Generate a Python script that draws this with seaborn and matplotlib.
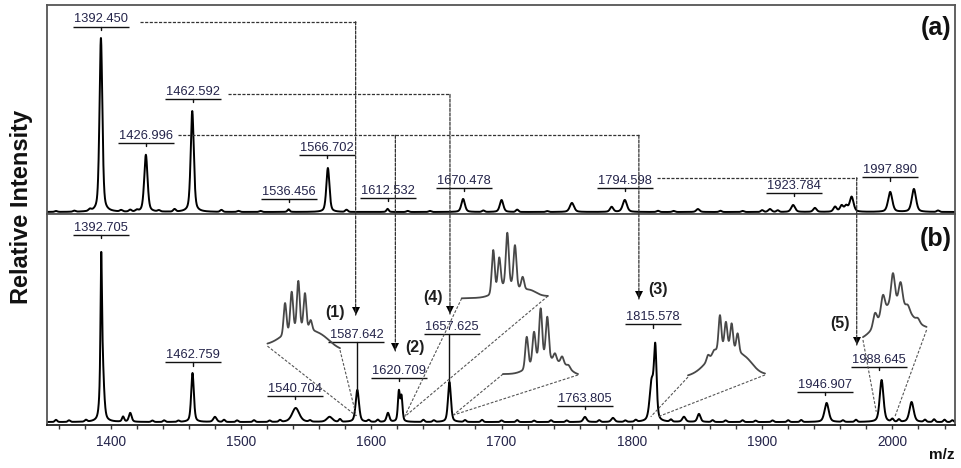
import numpy as np
import pandas as pd
import matplotlib
matplotlib.use("Agg")
import matplotlib.pyplot as plt
import seaborn as sns
from matplotlib.patches import ConnectionPatch
from matplotlib.ticker import MultipleLocator
from matplotlib.transforms import offset_copy

# ---------------- data ----------------
# panel (a): main peaks  (m/z, relative intensity %, FWHM)
a_peak_mz = [1392.5, 1427.0, 1462.6, 1536.5, 1566.7, 1612.5, 1670.5, 1700.0, 1754.0,
             1784.5, 1794.6, 1850.7, 1906.0, 1923.8, 1940.5, 1956.0, 1961.0, 1964.5,
             1968.7, 1998.3, 2016.5]
a_peak_int = [100, 32.8, 58.0, 1.5, 25.3, 1.8, 7.5, 6.9, 5.2,
              2.9, 6.9, 1.7, 1.7, 4.0, 2.3, 2.9, 3.5, 3.2,
              8.6, 11.5, 13.2]
a_peak_fwhm = [2.6, 3.0, 2.8, 2.0, 2.8, 2.0, 3.2, 3.2, 3.8,
               3.0, 3.8, 3.0, 3.0, 3.5, 3.0, 3.0, 3.0, 3.0,
               3.5, 3.8, 3.8]
# panel (a): small baseline bumps
a_bump_mz = [1358, 1372, 1384, 1408, 1415, 1420, 1437, 1449, 1485, 1498, 1515, 1581,
             1628, 1645, 1686, 1712, 1735, 1820, 1832, 1868, 1885, 1900, 1912, 2035]
a_bump_int = [0.5, 0.6, 1.0, 0.8, 1.0, 0.8, 0.7, 1.4, 1.1, 0.6, 0.6, 1.2,
              0.6, 0.6, 0.8, 1.3, 0.5, 0.7, 0.6, 0.7, 0.6, 1.0, 0.9, 0.8]

# panel (b): main peaks
b_peak_mz = [1392.7, 1393.3, 1409.5, 1415.0, 1462.8, 1480.0, 1542.0, 1568.0, 1589.3,
             1612.8, 1621.2, 1623.2, 1660.0, 1764.0, 1785.5, 1815.2, 1818.0, 1840.0,
             1851.5, 1949.5, 1991.7, 2014.7]
b_peak_int = [62, 40, 2.9, 5.1, 28.0, 2.9, 8.0, 2.9, 18.3,
              5.1, 17.0, 14.0, 22.9, 2.9, 2.3, 22.0, 40.0, 2.9,
              4.6, 10.9, 24.0, 11.4]
b_peak_fwhm = [1.2, 3.0, 2.0, 2.5, 2.4, 3.0, 6.5, 5.0, 3.0,
               2.5, 1.8, 1.8, 2.6, 3.0, 3.0, 3.6, 2.4, 3.0,
               2.8, 3.8, 3.4, 3.8]
# panel (b): small baseline bumps
b_bump_mz = [1358, 1368, 1381, 1432, 1441, 1452, 1487, 1497, 1510, 1522, 1530, 1553,
             1576, 1598, 1605, 1640, 1648, 1672, 1685, 1700, 1712, 1725, 1738, 1750,
             1775, 1795, 1803, 1830, 1862, 1872, 1885, 1895, 1908, 1920, 1930, 1962,
             1972, 2000, 2005, 2025, 2032, 2040, 2046]
b_bump_int = [1.2, 0.9, 1.0, 0.8, 0.9, 0.7, 1.2, 0.9, 1.0, 0.8, 1.0, 0.8,
              1.5, 1.0, 1.2, 1.2, 0.9, 1.0, 1.2, 0.9, 1.1, 0.8, 1.0, 0.9,
              1.0, 0.8, 1.0, 1.2, 1.0, 0.9, 1.0, 0.8, 0.9, 1.0, 1.1, 0.9,
              1.2, 1.5, 1.3, 1.2, 1.5, 1.3, 1.0]

# peak labels, panel (a)
a_label_text = ["1392.450", "1426.996", "1462.592", "1536.456", "1566.702",
                "1612.532", "1670.478", "1794.598", "1923.784", "1997.890"]
a_label_x = [1392.5, 1427.0, 1462.8, 1536.5, 1566.0, 1612.5, 1671.0, 1795.0, 1924.5, 1998.4]
a_label_y = [106.6, 39.5, 64.9, 7.3, 32.8, 7.9, 14.0, 13.6, 11.1, 19.9]

# peak labels, panel (b)
b_label_text = ["1392.705", "1462.759", "1540.704", "1587.642", "1620.709",
                "1657.625", "1763.805", "1815.578", "1946.907", "1988.645"]
b_label_x = [1392.8, 1463.0, 1541.2, 1588.6, 1621.3, 1662.0, 1764.0, 1816.4, 1948.4, 1989.5]
b_label_y = [106.9, 34.1, 14.9, 45.5, 25.3, 50.1, 9.3, 55.8, 17.3, 31.3]
b_stem_x = [1392.8, 1463.0, 1541.2, 1589.3, 1621.3, 1659.8, 1764.0, 1816.4, 1948.2, 1989.9]
b_stem_end = [105.1, 32.3, 13.1, 18.3, 23.5, 23.4, 7.5, 54.0, 15.5, 29.5]

# dashed connectors from panel (a) to panel (b)
conn_y = [109.4, 67.6, 44.1, 19.7]
conn_x0 = [1422.6, 1490.0, 1451.6, 1819.3]
conn_x1 = [1588.0, 1660.4, 1805.4, 1972.6]
drop_x = [1588.0, 1660.4, 1618.5, 1805.4, 1972.6]
drop_from = [109.4, 67.6, 44.1, 44.1, 19.7]
drop_tip = [61.1, 61.7, 40.6, 70.3, 44.0]

num_text = ["(1)", "(2)", "(3)", "(4)", "(5)"]
num_x = [1572.4, 1633.5, 1820.3, 1647.4, 1959.7]
num_y = [62.7, 42.7, 76.0, 70.9, 56.4]

# isotope-pattern insets (panel b data units)
inset_left_x = [1520.3, 1669.4, 1701.1, 1843.1, 1977.4]
inset_left_y = [43.4, 70.7, 27.4, 25.7, 46.9]
inset_right_x = [1576.0, 1735.6, 1758.7, 1902.2, 2026.2]
inset_right_y = [41.1, 72.0, 26.9, 26.9, 52.6]
inset_hump_x = [[1545, 1563], [1705, 1722], [1732, 1748], [1872, 1889], [2002]]
inset_hump_h = [[12, 4], [8, 3], [11, 4], [18, 3], [20]]
inset_hump_s = [[12, 7], [8, 5], [9, 5], [12, 5], [11]]
iso_x = [[1533.8, 1538.9, 1544.0, 1549.1, 1553.5],
         [1693.6, 1698.2, 1704.4, 1710.3, 1716.2],
         [1719.3, 1724.9, 1730.0, 1735.1, 1741.0, 1746.5, 1751.5],
         [1858.4, 1863.0, 1867.6, 1872.2, 1876.6, 1881.2],
         [1986.6, 1992.7, 2000.4, 2006.3, 2011.9, 2019.6]]
iso_top = [[68.0, 74.5, 80.7, 73.7, 58.3],
           [98.3, 94.1, 108.2, 101.1, 83.0],
           [48.7, 51.6, 65.0, 60.2, 39.3, 37.5, 32.5],
           [38.3, 41.1, 61.1, 57.3, 56.4, 50.7],
           [62.3, 72.6, 85.1, 80.0, 66.9, 59.4]]
iso_sigma = [1.05, 1.1, 1.1, 1.0, 1.35]
tgt_left_x = [1588.5, 1625.5, 1663.0, 1814.5, 1987.6]
tgt_left_y = [3.5, 3.0, 4.0, 3.0, 5.9]
tgt_right_x = [1588.5, 1625.5, 1663.0, 1820.0, 2001.9]
tgt_right_y = [3.5, 3.0, 4.0, 3.0, 3.0]

x_major = [1400, 1500, 1600, 1700, 1800, 1900, 2000]

# ---------------- helpers ----------------
def pv(x, c, h, w, eta=0.45):
    d = (x - c) / w
    return h * ((1 - eta) * np.exp(-4 * np.log(2) * d ** 2) + eta / (1 + 4 * d ** 2))


def gauss(x, c, h, s):
    return h * np.exp(-0.5 * ((x - c) / s) ** 2)


mz = np.linspace(1350, 2050, 7001)
ya = np.zeros_like(mz)
for c, h, w in zip(a_peak_mz, a_peak_int, a_peak_fwhm):
    ya += pv(mz, c, h, w)
for c, h in zip(a_bump_mz, a_bump_int):
    ya += gauss(mz, c, h, 1.0)
yb = np.zeros_like(mz)
for c, h, w in zip(b_peak_mz, b_peak_int, b_peak_fwhm):
    yb += pv(mz, c, h, w)
for c, h in zip(b_bump_mz, b_bump_int):
    yb += gauss(mz, c, h, 0.9)

df_a = pd.DataFrame({"mz": mz, "intensity": ya})
df_b = pd.DataFrame({"mz": mz, "intensity": yb})

# ---------------- figure ----------------
sns.set_style("white")
plt.rcParams["font.family"] = ["Liberation Sans", "DejaVu Sans"]

fig = plt.figure(figsize=(9.61, 4.68), dpi=100)
ax_a = fig.add_axes([0.0489, 0.54274, 0.9448, 0.44658])
ax_b = fig.add_axes([0.0489, 0.09188, 0.9448, 0.45086])

sns.lineplot(data=df_a, x="mz", y="intensity", ax=ax_a, color="black",
             linewidth=1.4, estimator=None, sort=False)
sns.lineplot(data=df_b, x="mz", y="intensity", ax=ax_b, color="black",
             linewidth=1.4, estimator=None, sort=False)

LBL_COLOR = "#24244a"
HALF = 21.5


def draw_labels(ax, texts, xs, ys, sxs, ses):
    for t, x, y, sx, se in zip(texts, xs, ys, sxs, ses):
        ax.plot([x - HALF, x + HALF], [y, y], color="#111111", lw=1.0,
                solid_capstyle="butt")
        ax.plot([sx, sx], [y, se], color="#111111", lw=1.0)
        ax.annotate(t, (x, y), xytext=(0, 0.8), textcoords="offset points",
                    ha="center", va="bottom", fontsize=9.3, color=LBL_COLOR)


draw_labels(ax_a, a_label_text, a_label_x, a_label_y, a_label_x,
            [v - 1.8 for v in a_label_y])
draw_labels(ax_b, b_label_text, b_label_x, b_label_y, b_stem_x, b_stem_end)

DASH = (2.5, 1.2)
# horizontal connector segments in panel (a)
for y, x0, x1 in zip(conn_y, conn_x0, conn_x1):
    ax_a.plot([x0, x1], [y, y], color="#333333", lw=0.9, dashes=DASH)

# vertical drops with arrowheads into panel (b)
for x, y0, yt in zip(drop_x, drop_from, drop_tip):
    con = ConnectionPatch(xyA=(x, y0), coordsA=ax_a.transData,
                          xyB=(x, yt), coordsB=ax_b.transData,
                          color="#333333", lw=0.9, linestyle=(0, DASH))
    fig.add_artist(con)
    tr = offset_copy(ax_b.transData, fig=fig, x=0, y=2.9, units="points")
    ax_b.plot([x], [yt], marker="v", markersize=5.8, color="black",
              markeredgewidth=0, transform=tr, zorder=6)

for t, x, y in zip(num_text, num_x, num_y):
    ax_b.text(x, y, t, ha="center", va="center", fontsize=11.5,
              fontweight="bold", color="#1e1e1e")

# isotope insets
for i in range(len(inset_left_x)):
    xl, xr = inset_left_x[i], inset_right_x[i]
    yl, yr = inset_left_y[i], inset_right_y[i]
    xs = np.linspace(xl, xr, 800)

    def env(v):
        base = yl + (yr - yl) * (v - xl) / (xr - xl)
        hump = sum(gauss(v, c, h, s) for c, h, s in
                   zip(inset_hump_x[i], inset_hump_h[i], inset_hump_s[i]))
        return base + hump

    curve = env(xs)
    for c, top in zip(iso_x[i], iso_top[i]):
        curve = curve + gauss(xs, c, top - env(c), iso_sigma[i])
    ax_b.plot(xs, curve, color="#484848", lw=1.3, zorder=4)
    ax_b.plot([xl, tgt_left_x[i]], [yl, tgt_left_y[i]], color="#555555",
              lw=0.8, dashes=(2.5, 1.5), zorder=3)
    ax_b.plot([xr, tgt_right_x[i]], [yr, tgt_right_y[i]], color="#555555",
              lw=0.8, dashes=(2.5, 1.5), zorder=3)

# axes styling
for ax in (ax_a, ax_b):
    ax.set_xlim(1351.1, 2048.0)
    ax.set_xlabel("")
    ax.set_ylabel("")
    ax.set_yticks([])
    for s in ax.spines.values():
        s.set_color("#555555")
        s.set_linewidth(1.3)
        s.set_visible(True)

ax_a.set_ylim(-1.15, 119.0)
ax_b.set_ylim(-1.7, 118.9)
ax_a.set_xticks([])
ax_a.tick_params(bottom=False, labelbottom=False)

ax_b.set_xticks(x_major)
ax_b.set_xticklabels([str(v) for v in x_major])
ax_b.xaxis.set_minor_locator(MultipleLocator(20))
ax_b.tick_params(axis="x", which="both", direction="out", length=3.2,
                 width=1.0, color="#333333", bottom=True)
ax_b.tick_params(axis="x", which="major", labelsize=9.8, labelcolor=LBL_COLOR,
                 pad=4.0)
ax_b.spines["bottom"].set_color("#222222")

ax_a.text(0.996, 0.892, "(a)", transform=ax_a.transAxes, ha="right",
          va="center", fontsize=18, fontweight="bold", color="#111111")
ax_b.text(0.997, 0.881, "(b)", transform=ax_b.transAxes, ha="right",
          va="center", fontsize=18, fontweight="bold", color="#111111")

fig.text(22 / 961, 1 - 207 / 468, "Relative Intensity", rotation=90,
         ha="center", va="center", fontsize=17, fontweight="bold",
         color="#111111")
fig.text(954 / 961, 1 - 455 / 468, "m/z", ha="right", va="center",
         fontsize=11, fontweight="bold", color="#111111")

fig.savefig("out.png", dpi=100)
